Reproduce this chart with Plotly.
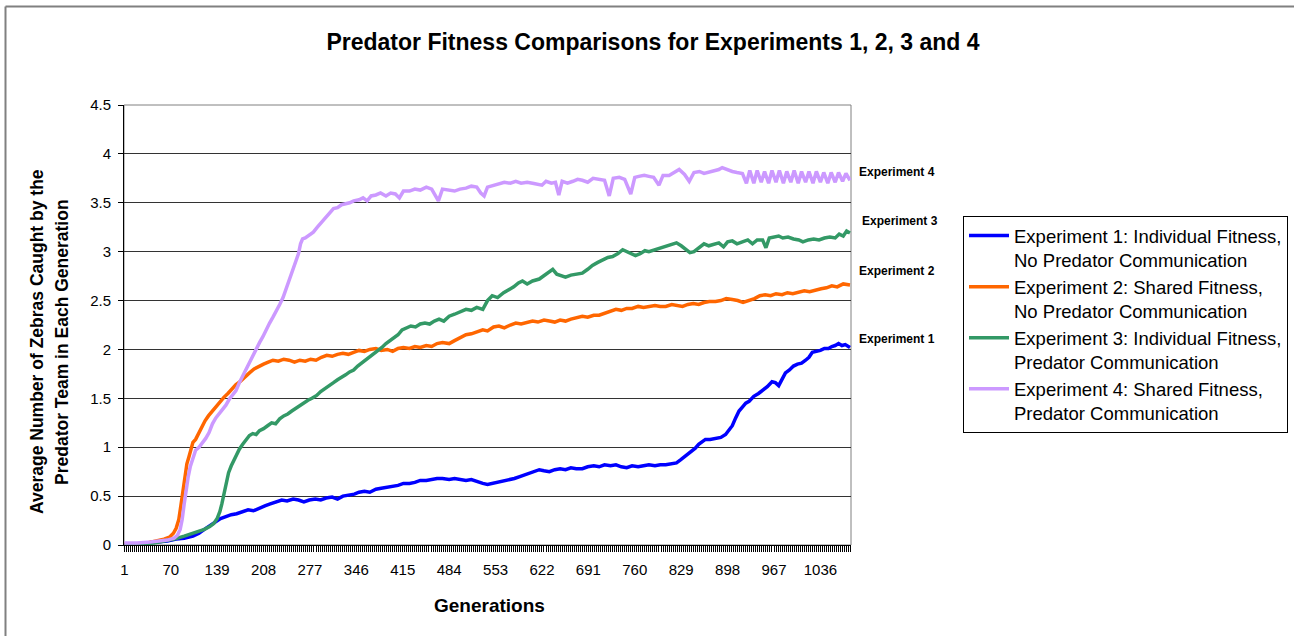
import plotly.graph_objects as go

# ---------------- data ----------------
tick_gens = [1, 70, 139, 208, 277, 346, 415, 484, 553, 622, 691, 760, 829, 898, 967, 1036]

exp1_gen = [1, 20, 40, 55, 65, 78, 90, 103, 112, 120, 128, 136, 144, 152, 160, 168, 177, 185, 193, 202,
            210, 218, 227, 235, 243, 252, 260, 268, 276, 285, 293, 301, 310, 318, 326, 335, 343, 350, 358,
            366, 375, 383, 392, 400, 408, 416, 425, 433, 441, 450, 458, 466, 474, 484, 492, 500, 509, 517,
            525, 534, 541, 548, 556, 565, 573, 581, 589, 597, 605, 612, 618, 625, 633, 641, 649, 657, 665,
            673, 682, 690, 699, 707, 715, 724, 732, 740, 748, 756, 765, 773, 781, 790, 798, 806, 815, 822,
            828, 834, 840, 846, 850, 855, 860, 865, 872, 880, 888, 895, 900, 905, 910, 915, 920, 925, 930,
            937, 944, 950, 957, 964, 969, 974, 979, 984, 990, 996, 1002, 1008, 1014, 1019, 1024, 1030, 1036,
            1042, 1048, 1053, 1058, 1063, 1068, 1073, 1080]
exp1_val = [0.0, 0.01, 0.02, 0.03, 0.04, 0.06, 0.07, 0.09, 0.12, 0.16, 0.20, 0.24, 0.27, 0.29, 0.31, 0.32,
            0.34, 0.36, 0.35, 0.38, 0.40, 0.42, 0.44, 0.46, 0.45, 0.47, 0.46, 0.44, 0.46, 0.47, 0.46, 0.48,
            0.49, 0.47, 0.50, 0.51, 0.52, 0.54, 0.55, 0.54, 0.57, 0.58, 0.59, 0.60, 0.61, 0.63, 0.63, 0.64,
            0.66, 0.66, 0.67, 0.68, 0.68, 0.67, 0.68, 0.67, 0.66, 0.67, 0.65, 0.63, 0.62, 0.63, 0.64, 0.65,
            0.67, 0.68, 0.70, 0.72, 0.74, 0.75, 0.77, 0.76, 0.75, 0.77, 0.78, 0.77, 0.79, 0.78, 0.78, 0.80,
            0.81, 0.80, 0.82, 0.81, 0.82, 0.80, 0.79, 0.81, 0.80, 0.81, 0.82, 0.81, 0.82, 0.82, 0.83, 0.84,
            0.87, 0.90, 0.93, 0.97, 0.99, 1.03, 1.06, 1.08, 1.08, 1.09, 1.10, 1.13, 1.17, 1.22, 1.30, 1.37,
            1.41, 1.45, 1.47, 1.52, 1.55, 1.58, 1.62, 1.67, 1.66, 1.63, 1.70, 1.76, 1.79, 1.83, 1.85, 1.86,
            1.89, 1.92, 1.97, 1.98, 1.99, 2.01, 2.01, 2.03, 2.04, 2.06, 2.04, 2.05, 2.02]

exp2_gen = [1, 20, 35, 50, 60, 68, 74, 78, 82, 85, 88, 91, 94, 97, 100, 103, 107, 111, 116, 121, 126, 131,
            137, 143, 149, 155, 161, 167, 173, 180, 187, 194, 201, 208, 215, 222, 230, 238, 246, 254, 262,
            270, 278, 286, 294, 302, 310, 318, 326, 334, 342, 350, 358, 366, 375, 383, 392, 400, 408, 416,
            425, 433, 441, 450, 458, 466, 474, 484, 492, 500, 509, 517, 525, 534, 541, 550, 558, 566, 575,
            583, 591, 600, 608, 616, 625, 633, 641, 649, 657, 665, 673, 682, 690, 699, 707, 715, 724, 732,
            740, 748, 756, 765, 773, 781, 790, 798, 806, 815, 822, 831, 839, 847, 855, 863, 871, 880, 888,
            896, 905, 913, 921, 930, 938, 946, 954, 962, 970, 979, 987, 995, 1004, 1012, 1020, 1029, 1037,
            1045, 1053, 1061, 1070, 1080]
exp2_val = [0.01, 0.01, 0.02, 0.04, 0.06, 0.08, 0.12, 0.17, 0.26, 0.40, 0.55, 0.72, 0.83, 0.90, 0.97, 1.05,
            1.08, 1.14, 1.20, 1.27, 1.32, 1.36, 1.42, 1.46, 1.51, 1.55, 1.60, 1.64, 1.67, 1.72, 1.76, 1.80,
            1.83, 1.85, 1.87, 1.89, 1.88, 1.90, 1.89, 1.87, 1.89, 1.88, 1.90, 1.89, 1.92, 1.94, 1.93, 1.95,
            1.96, 1.95, 1.97, 1.99, 1.98, 2.00, 2.01, 1.99, 2.00, 1.98, 2.01, 2.02, 2.01, 2.03, 2.02, 2.04,
            2.03, 2.06, 2.07, 2.06, 2.09, 2.12, 2.15, 2.16, 2.18, 2.20, 2.19, 2.23, 2.24, 2.22, 2.25, 2.27,
            2.26, 2.28, 2.29, 2.28, 2.30, 2.29, 2.28, 2.30, 2.29, 2.31, 2.32, 2.34, 2.33, 2.35, 2.35, 2.37,
            2.39, 2.41, 2.40, 2.42, 2.42, 2.44, 2.43, 2.44, 2.45, 2.44, 2.44, 2.46, 2.45, 2.44, 2.46, 2.47,
            2.46, 2.48, 2.49, 2.49, 2.50, 2.52, 2.51, 2.50, 2.48, 2.50, 2.52, 2.55, 2.56, 2.55, 2.57, 2.56,
            2.58, 2.57, 2.59, 2.60, 2.59, 2.61, 2.62, 2.63, 2.65, 2.64, 2.67, 2.66]

exp3_gen = [1, 25, 45, 60, 75, 90, 103, 112, 120, 128, 134, 139, 143, 146, 149, 152, 156, 160, 164, 168,
            172, 177, 182, 187, 192, 197, 202, 208, 214, 220, 226, 232, 238, 244, 250, 256, 262, 268, 274,
            280, 287, 293, 300, 306, 312, 318, 324, 330, 336, 342, 348, 354, 360, 366, 372, 378, 384, 390,
            396, 402, 408, 414, 420, 427, 434, 441, 448, 455, 462, 469, 476, 484, 492, 500, 509, 517, 525,
            534, 541, 548, 556, 565, 573, 580, 587, 593, 600, 608, 618, 626, 633, 638, 644, 651, 657, 665,
            673, 682, 690, 697, 705, 712, 720, 727, 735, 742, 748, 754, 761, 768, 775, 781, 790, 798, 806,
            815, 822, 829, 835, 842, 848, 855, 863, 870, 877, 885, 892, 898, 905, 912, 920, 928, 935, 942,
            950, 955, 960, 967, 974, 980, 988, 996, 1004, 1010, 1018, 1026, 1034, 1042, 1050, 1058, 1064,
            1070, 1075, 1080]
exp3_val = [0.0, 0.01, 0.02, 0.04, 0.06, 0.09, 0.12, 0.14, 0.16, 0.19, 0.22, 0.27, 0.34, 0.42, 0.53, 0.64,
            0.74, 0.81, 0.87, 0.92, 0.98, 1.03, 1.08, 1.12, 1.14, 1.13, 1.17, 1.19, 1.22, 1.25, 1.24, 1.29,
            1.32, 1.34, 1.37, 1.40, 1.42, 1.45, 1.48, 1.50, 1.53, 1.57, 1.60, 1.63, 1.66, 1.69, 1.71, 1.74,
            1.77, 1.79, 1.83, 1.86, 1.90, 1.93, 1.96, 1.99, 2.02, 2.06, 2.09, 2.12, 2.15, 2.20, 2.22, 2.24,
            2.23, 2.26, 2.27, 2.26, 2.29, 2.31, 2.29, 2.34, 2.36, 2.38, 2.41, 2.40, 2.43, 2.41, 2.50, 2.55,
            2.53, 2.58, 2.61, 2.64, 2.68, 2.70, 2.67, 2.70, 2.72, 2.76, 2.79, 2.82, 2.77, 2.75, 2.74, 2.76,
            2.77, 2.78, 2.82, 2.86, 2.89, 2.91, 2.94, 2.95, 2.98, 3.02, 3.00, 2.98, 2.96, 2.98, 3.01, 3.00,
            3.02, 3.03, 3.05, 3.07, 3.09, 3.06, 3.03, 2.99, 3.00, 3.04, 3.08, 3.06, 3.07, 3.09, 3.05, 3.10,
            3.11, 3.08, 3.10, 3.12, 3.08, 3.12, 3.12, 3.04, 3.14, 3.15, 3.16, 3.14, 3.15, 3.13, 3.12, 3.10,
            3.12, 3.13, 3.12, 3.14, 3.15, 3.14, 3.18, 3.16, 3.21, 3.19]

exp4_gen = [1, 20, 40, 55, 65, 75, 80, 84, 87, 90, 93, 96, 99, 103, 107, 112, 117, 122, 127, 132, 137, 142,
            147, 152, 157, 162, 167, 172, 177, 182, 187, 192, 197, 202, 207, 212, 217, 222, 227, 232, 237,
            242, 247, 252, 256, 260, 263, 266, 270, 276, 282, 288, 294, 300, 306, 312, 318, 324, 330, 336,
            342, 350, 356, 362, 368, 375, 382, 390, 397, 404, 410, 416, 425, 433, 441, 450, 458, 468, 474,
            484, 492, 500, 509, 517, 525, 531, 536, 541, 550, 558, 566, 575, 583, 591, 600, 608, 616, 622,
            628, 636, 642, 647, 652, 660, 668, 675, 682, 690, 698, 707, 715, 722, 728, 737, 745, 754, 760,
            766, 774, 781, 788, 796, 802, 811, 818, 826, 834, 841, 848, 856, 863, 870, 878, 885, 890, 897,
            905, 912, 920, 926, 931, 937, 942, 948, 953, 959, 964, 970, 975, 981, 986, 992, 997, 1003, 1008,
            1014, 1019, 1025, 1030, 1036, 1041, 1047, 1052, 1058, 1063, 1069, 1074, 1080]
exp4_val = [0.02, 0.02, 0.03, 0.04, 0.05, 0.07, 0.10, 0.16, 0.26, 0.42, 0.58, 0.70, 0.80, 0.90, 0.97, 1.00,
            1.04, 1.09, 1.15, 1.24, 1.30, 1.34, 1.39, 1.43, 1.49, 1.53, 1.58, 1.66, 1.73, 1.80, 1.88, 1.95,
            2.01, 2.07, 2.13, 2.21, 2.27, 2.33, 2.39, 2.46, 2.53, 2.63, 2.73, 2.82, 2.90, 2.98, 3.08, 3.13,
            3.14, 3.17, 3.20, 3.25, 3.30, 3.35, 3.40, 3.44, 3.45, 3.48, 3.49, 3.50, 3.52, 3.53, 3.55, 3.52,
            3.57, 3.58, 3.60, 3.57, 3.60, 3.59, 3.55, 3.62, 3.62, 3.64, 3.63, 3.66, 3.64, 3.52, 3.64, 3.63,
            3.62, 3.64, 3.65, 3.67, 3.66, 3.60, 3.57, 3.66, 3.68, 3.69, 3.71, 3.70, 3.72, 3.70, 3.71, 3.70,
            3.69, 3.68, 3.72, 3.70, 3.71, 3.58, 3.72, 3.70, 3.72, 3.74, 3.73, 3.71, 3.75, 3.74, 3.73, 3.57,
            3.75, 3.76, 3.74, 3.59, 3.76, 3.77, 3.78, 3.77, 3.76, 3.68, 3.78, 3.78, 3.81, 3.84, 3.79, 3.72,
            3.81, 3.82, 3.80, 3.81, 3.83, 3.84, 3.86, 3.84, 3.82, 3.81, 3.80, 3.70, 3.83, 3.70, 3.83, 3.71,
            3.82, 3.70, 3.83, 3.71, 3.83, 3.70, 3.82, 3.71, 3.83, 3.70, 3.82, 3.71, 3.82, 3.70, 3.82, 3.71,
            3.81, 3.70, 3.81, 3.71, 3.81, 3.72, 3.80, 3.73]

names = ["Experiment 1: Individual Fitness,<br>No Predator Communication",
         "Experiment 2: Shared Fitness,<br>No Predator Communication",
         "Experiment 3: Individual Fitness,<br>Predator Communication",
         "Experiment 4: Shared Fitness,<br>Predator Communication"]
end_labels = ["Experiment 1", "Experiment 2", "Experiment 3", "Experiment 4"]
colors = ["#0000FF", "#FF6600", "#339966", "#CC99FF"]

# ---------------- geometry helpers (pixel -> paper) ----------------
W, H = 1294, 636
L, R, T, B = 124, 851, 105, 545


def px(x):
    return (x - L) / (R - L)


def py(y):
    return (B - y) / (B - T)


FONT = "Arial, Liberation Sans, sans-serif"

fig = go.Figure()
series = [(exp1_gen, exp1_val), (exp2_gen, exp2_val), (exp3_gen, exp3_val), (exp4_gen, exp4_val)]
for (g, v), n, c in zip(series, names, colors):
    fig.add_trace(go.Scatter(x=g, y=v, mode="lines", name=n,
                             line=dict(color=c, width=3.5)))

fig.update_layout(
    width=W, height=H,
    margin=dict(l=L, r=W - R, t=T, b=H - B, autoexpand=False),
    paper_bgcolor="white", plot_bgcolor="white",
    font=dict(family=FONT, color="black"),
    title=dict(text="<b>Predator Fitness Comparisons for Experiments 1, 2, 3 and 4</b>",
               font=dict(size=23, family=FONT, color="black"),
               x=653 / W, xanchor="center", xref="container",
               y=1 - 42 / H, yanchor="middle", yref="container"),
    showlegend=True,
    legend=dict(x=px(963), y=py(216), xanchor="left", yanchor="top",
                bordercolor="black", borderwidth=1, bgcolor="white",
                font=dict(size=18.5, family=FONT, color="black"),
                valign="top", tracegroupgap=0, itemwidth=40),
)

fig.update_xaxes(
    range=[0.5, 1081.5], tickmode="array", tickvals=tick_gens,
    ticktext=[str(t) for t in tick_gens],
    ticks="outside", ticklen=6, tickcolor="black", tickwidth=1,
    tickfont=dict(size=15, family=FONT, color="black"), ticklabelstandoff=5,
    showline=True, linecolor="black", linewidth=1, showgrid=False, zeroline=False,
    minor=dict(tickmode="linear", tick0=1, dtick=3, ticks="outside", ticklen=6,
               tickcolor="black", tickwidth=1, showgrid=False),
)
fig.update_yaxes(
    range=[0, 4.5], dtick=0.5, tick0=0,
    ticks="outside", ticklen=5, tickcolor="black", tickwidth=1,
    tickfont=dict(size=15, family=FONT, color="black"), ticklabelstandoff=4,
    showline=True, linecolor="black", linewidth=1,
    showgrid=True, gridcolor="#333333", gridwidth=1, zeroline=False,
)

# plot-area border (grey) and outer chart border (cropped at right/bottom)
fig.add_shape(type="rect", xref="paper", yref="paper", x0=0, x1=1, y0=0, y1=1,
              line=dict(color="#808080", width=1), layer="below")
fig.add_shape(type="line", xref="paper", yref="paper", x0=px(5.5), x1=px(1300),
              y0=py(6.5), y1=py(6.5), line=dict(color="#808080", width=2))
fig.add_shape(type="line", xref="paper", yref="paper", x0=px(5.5), x1=px(5.5),
              y0=py(6.5), y1=py(640), line=dict(color="#808080", width=2))

# axis titles
fig.add_annotation(text="<b>Average Number of Zebras Caught by the</b>", xref="paper", yref="paper",
                   x=px(37), y=py(342), textangle=-90, showarrow=False,
                   xanchor="center", yanchor="middle",
                   font=dict(size=17.5, family=FONT, color="black"))
fig.add_annotation(text="<b>Predator Team in Each Generation</b>", xref="paper", yref="paper",
                   x=px(62), y=py(342), textangle=-90, showarrow=False,
                   xanchor="center", yanchor="middle",
                   font=dict(size=17.5, family=FONT, color="black"))
fig.add_annotation(text="<b>Generations</b>", xref="paper", yref="paper",
                   x=px(489), y=py(605), showarrow=False,
                   xanchor="center", yanchor="middle",
                   font=dict(size=19, family=FONT, color="black"))

# end-of-line labels
label_pos = [(857, 339), (857, 271), (860, 221), (857, 172)]
for txt, (lx, ly) in zip(end_labels, label_pos):
    fig.add_annotation(text="<b>" + txt + "</b>", xref="paper", yref="paper",
                       x=px(lx), y=py(ly), xanchor="left", yanchor="middle", showarrow=False,
                       font=dict(size=12, family=FONT, color="black"))

# the default page has an 8px body margin; remove it so the figure sits at the page origin
fig.write_html("out.html", config={"displayModeBar": False},
               post_script="document.body.style.margin='0';")
